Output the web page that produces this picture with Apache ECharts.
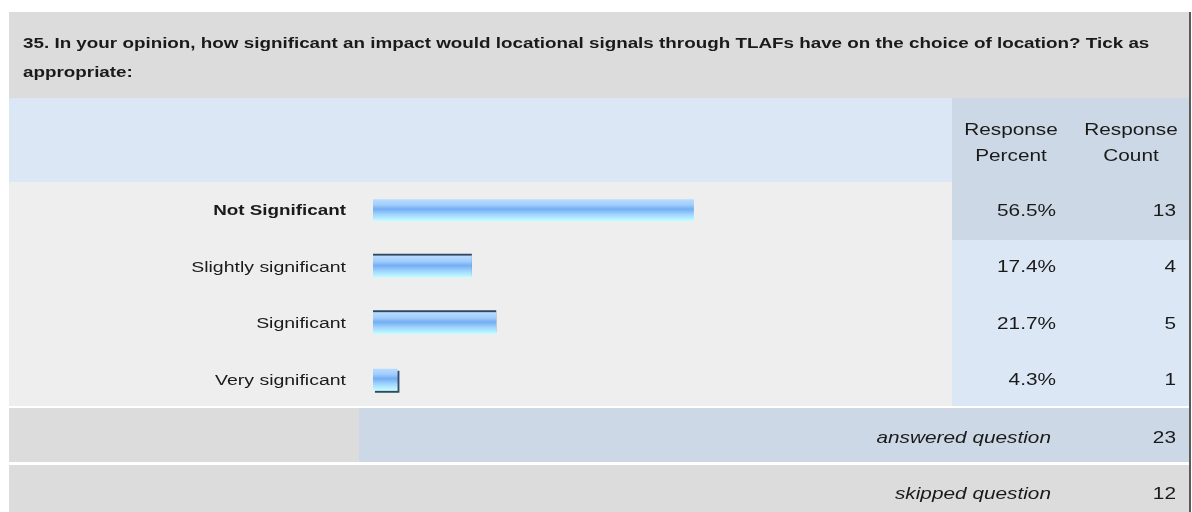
<!DOCTYPE html>
<html>
<head>
<meta charset="utf-8">
<script src="https://cdn.jsdelivr.net/npm/echarts@6/dist/echarts.min.js"></script>
<style>
html,body{margin:0;padding:0;background:#fff;overflow:hidden;}
#chart{height:512px;transform-origin:0 0;}
</style>
</head>
<body>
<div id="chart"></div>
<script>
const titleLines = ["35. In your opinion, how significant an impact would locational signals through TLAFs have on the choice of location? Tick as", "appropriate:"];
const categories = ["Not Significant", "Slightly significant", "Significant", "Very significant"];
const percentValues = [56.5, 17.4, 21.7, 4.3];
const percentLabels = ["56.5%", "17.4%", "21.7%", "4.3%"];
const countValues = [13, 4, 5, 1];
const headerPercent = ["Response", "Percent"];
const headerCount = ["Response", "Count"];
const answeredLabel = "answered question";
const answeredCount = 23;
const skippedLabel = "skipped question";
const skippedCount = 12;

// The reference renders its text horizontally widened; draw in a narrower
// coordinate space and stretch the whole chart horizontally.
const S = 1.3;
const X = v => v / S;
const el = document.getElementById('chart');
el.style.width = (1192 / S) + 'px';
el.style.transform = 'scaleX(' + S + ')';

const FONT = "'Liberation Sans', Arial, sans-serif";
const chart = echarts.init(el, null, {renderer: 'svg'});

const barGradient = new echarts.graphic.LinearGradient(0, 0, 0, 1, [
  {offset: 0, color: '#b8dcff'},
  {offset: 0.25, color: '#a2cdfd'},
  {offset: 0.45, color: '#74aef2'},
  {offset: 0.7, color: '#a0d6ff'},
  {offset: 1, color: '#c8ffff'}
]);

const barData = percentValues.map((v, i) => {
  const item = {value: v, itemStyle: {color: barGradient}};
  if (i === 1 || i === 2) {
    item.itemStyle.shadowColor = '#2f4663';
    item.itemStyle.shadowOffsetY = -2;
    item.itemStyle.shadowBlur = 0;
  }
  if (i === 3) {
    item.itemStyle.shadowColor = '#2f4663';
    item.itemStyle.shadowOffsetX = 1.5;
    item.itemStyle.shadowOffsetY = 2;
    item.itemStyle.shadowBlur = 0;
  }
  return item;
});

const TXT = '#1a1a1a';
const textBase = {fontFamily: FONT, fontSize: 16, fill: TXT};
const rect = (x, y, w, h, fill, z) => ({type: 'rect', shape: {x: X(x), y: y, width: X(w), height: h}, style: {fill: fill}, z: z || -10});
const txt = (x, y, s) => ({type: 'text', x: X(x), y: y, style: Object.assign({}, textBase, {verticalAlign: 'middle'}, s)});

const graphics = [
  rect(9, 12, 1181, 86, '#dcdcdc'),
  rect(9, 98, 943, 84, '#dce7f5'),
  rect(952, 98, 238, 84, '#ccd8e6'),
  rect(9, 182, 943, 224, '#eeeeee'),
  rect(952, 182, 238, 224, '#dce7f5'),
  rect(952, 182, 238, 58, '#ccd8e6', -9),
  rect(9, 408, 350, 54, '#dcdcdc'),
  rect(359, 408, 831, 54, '#ccd8e6'),
  rect(9, 465, 1181, 47, '#dcdcdc'),
  rect(1189, 12, 2, 500, '#5a5a5a', -8),
  txt(23, 43, {text: titleLines[0], fontWeight: 'bold', fontSize: 14.5}),
  txt(23, 72, {text: titleLines[1], fontWeight: 'bold', fontSize: 14.5}),
  txt(1011, 129, {text: headerPercent[0], align: 'center'}),
  txt(1011, 155, {text: headerPercent[1], align: 'center'}),
  txt(1131, 129, {text: headerCount[0], align: 'center'}),
  txt(1131, 155, {text: headerCount[1], align: 'center'}),
  txt(1051, 437, {text: answeredLabel, align: 'right', fontStyle: 'italic'}),
  txt(1176, 437, {text: String(answeredCount), align: 'right'}),
  txt(1051, 493, {text: skippedLabel, align: 'right', fontStyle: 'italic'}),
  txt(1176, 493, {text: String(skippedCount), align: 'right'})
];

const option = {
  animation: false,
  backgroundColor: '#ffffff',
  grid: {left: X(373), width: X(568), top: 182, height: 226, containLabel: false},
  xAxis: {type: 'value', min: 0, max: 100, show: false},
  yAxis: [
    {
      type: 'category', data: categories, inverse: true,
      axisLine: {show: false}, axisTick: {show: false}, splitLine: {show: false},
      axisLabel: {
        margin: X(27), fontFamily: FONT, fontSize: 15, color: TXT,
        formatter: (v, i) => i === 0 ? '{b|' + v + '}' : v,
        rich: {b: {fontFamily: FONT, fontSize: 14.5, fontWeight: 'bold', color: TXT}}
      }
    },
    {
      type: 'category', data: percentLabels, inverse: true, position: 'right',
      axisLine: {show: false}, axisTick: {show: false}, splitLine: {show: false},
      axisLabel: {margin: X(115), align: 'right', fontFamily: FONT, fontSize: 16, color: TXT}
    },
    {
      type: 'category', data: countValues.map(String), inverse: true, position: 'right', offset: 0,
      axisLine: {show: false}, axisTick: {show: false}, splitLine: {show: false},
      axisLabel: {margin: X(235), align: 'right', fontFamily: FONT, fontSize: 16, color: TXT}
    }
  ],
  series: [{
    type: 'bar', data: barData, barWidth: 22, yAxisIndex: 0,
    itemStyle: {color: barGradient}
  }],
  graphic: graphics
};
chart.setOption(option);
</script>
</body>
</html>
